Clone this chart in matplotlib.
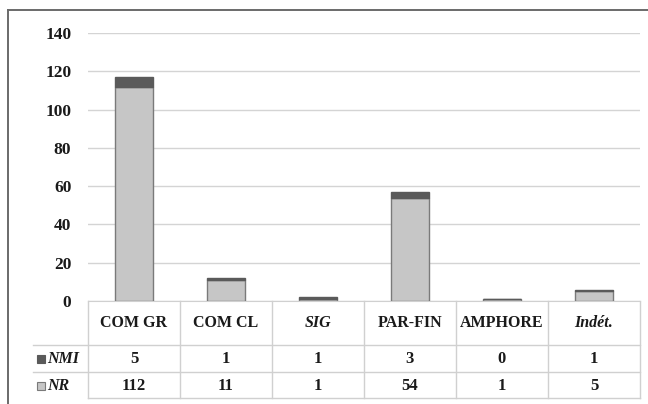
import matplotlib
matplotlib.use("Agg")
import matplotlib.pyplot as plt
from matplotlib.patches import Rectangle
from matplotlib.lines import Line2D

categories = ["COM GR", "COM CL", "SIG", "PAR-FIN", "AMPHORE", "Indét."]
cat_italic = [False, False, True, False, False, True]
nmi = [5, 1, 1, 3, 0, 1]
nr = [112, 11, 1, 54, 1, 5]
series_names = ["NMI", "NR"]
yticks = [0, 20, 40, 60, 80, 100, 120, 140]

W, H = 648, 404
plt.rcParams['font.family'] = ['Liberation Serif', 'DejaVu Serif']
fig = plt.figure(figsize=(W / 100, H / 100), dpi=100)

def fx(x):
    return x / W

def fy(y):
    return 1 - y / H

ax_l, ax_r, ax_t, ax_b = 88, 640, 33, 301
ax = fig.add_axes([fx(ax_l), fy(ax_b), fx(ax_r) - fx(ax_l), fy(ax_t) - fy(ax_b)])

light = "#c6c6c6"
light_edge = "#7a7a7a"
dark = "#5a5a5a"
grid_c = "#d4d4d4"
tbl_c = "#d0d0d0"
txt_c = "#1a1a1a"

x = list(range(len(categories)))
ax.bar(x, nr, width=0.41, color=light, edgecolor=light_edge, linewidth=1.0, zorder=3)
ax.bar(x, nmi, bottom=nr, width=0.41, color=dark, edgecolor=dark, linewidth=1.0, zorder=3)

ax.set_xlim(-0.5, len(categories) - 0.5)
ax.set_ylim(0, 140)
ax.set_yticks(yticks)
ax.set_yticklabels([str(v) for v in yticks], fontsize=12.5, fontweight='bold', color=txt_c)
ax.tick_params(axis='y', length=0, pad=12)
ax.tick_params(axis='x', length=0, labelbottom=False)
for s in ["top", "right", "left"]:
    ax.spines[s].set_visible(False)
ax.spines["bottom"].set_color(tbl_c)
ax.yaxis.grid(True, color=grid_c, linewidth=1.0, zorder=0)
ax.set_axisbelow(True)

# data table below the axes
col_w = (ax_r - ax_l) / len(categories)
fig.add_artist(Line2D([fx(33), fx(ax_r)], [fy(345), fy(345)], color=tbl_c, lw=1.0))
fig.add_artist(Line2D([fx(33), fx(ax_r)], [fy(372), fy(372)], color=tbl_c, lw=1.0))
fig.add_artist(Line2D([fx(ax_l), fx(ax_r)], [fy(398), fy(398)], color=tbl_c, lw=1.0))
for i in range(len(categories) + 1):
    xx = ax_l + i * col_w
    fig.add_artist(Line2D([fx(xx), fx(xx)], [fy(301), fy(398)], color=tbl_c, lw=1.0))

for i, (c, it) in enumerate(zip(categories, cat_italic)):
    cx = ax_l + (i + 0.5) * col_w
    fig.text(fx(cx), fy(323), c, ha='center', va='center', fontsize=11.5, fontweight='bold',
             style='italic' if it else 'normal', color=txt_c)
    fig.text(fx(cx), fy(359), str(nmi[i]), ha='center', va='center', fontsize=12,
             fontweight='bold', color=txt_c)
    fig.text(fx(cx), fy(386), str(nr[i]), ha='center', va='center', fontsize=12,
             fontweight='bold', color=txt_c)

# row labels with legend keys
fig.add_artist(Rectangle((fx(37), fy(363)), 8 / W, 8 / H, facecolor=dark, edgecolor=dark, lw=0.8))
fig.add_artist(Rectangle((fx(37), fy(390)), 8 / W, 8 / H, facecolor=light, edgecolor=light_edge, lw=0.8))
fig.text(fx(47), fy(359), series_names[0], ha='left', va='center', fontsize=11.5,
         fontweight='bold', style='italic', color=txt_c)
fig.text(fx(47), fy(386), series_names[1], ha='left', va='center', fontsize=11.5,
         fontweight='bold', style='italic', color=txt_c)

# outer chart border (left and top edges visible)
fig.add_artist(Line2D([fx(8), fx(8)], [fy(10), fy(404)], color="#6a6a6a", lw=1.4))
fig.add_artist(Line2D([fx(8), fx(648)], [fy(10), fy(10)], color="#6a6a6a", lw=1.4))

fig.savefig("out.png", dpi=100)
